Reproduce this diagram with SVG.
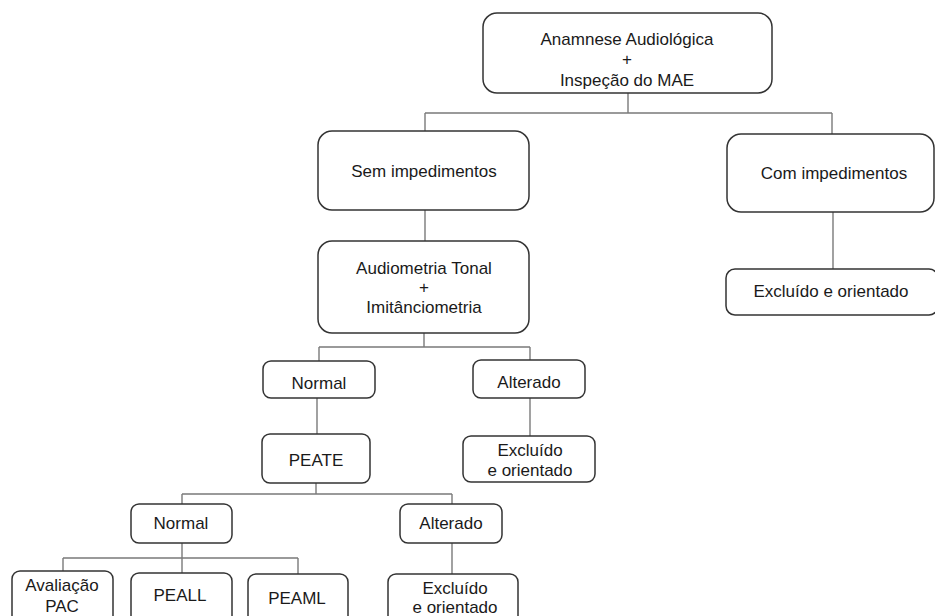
<svg xmlns="http://www.w3.org/2000/svg" width="935" height="616" viewBox="0 0 935 616">
<style>
.b{fill:#fff;stroke:#333;stroke-width:1.5}
.t{font-family:"Liberation Sans",Arial,sans-serif;font-size:17px;fill:#1a1a1a;text-anchor:middle}
.c{fill:none;stroke:#7a7a7a;stroke-width:1.4}
</style>
<rect width="935" height="616" fill="#fff"/>
<g id="connectors">
<path class="c" d="M628 93V113M425 113H832M425 113V131M832 113V134"/>
<path class="c" d="M425 210V241"/>
<path class="c" d="M833 212V269"/>
<path class="c" d="M424 333V347M319 347H530M319 347V361M530 347V360"/>
<path class="c" d="M317 398V434"/>
<path class="c" d="M530 398V436"/>
<path class="c" d="M316 483V494M182 494H452M182 494V504M452 494V504"/>
<path class="c" d="M182 543V558M63 558H298M63 558V571M182 558V573M298 558V574"/>
<path class="c" d="M452 543V574"/>
</g>
<g id="anamnese"><rect class="b" x="483" y="13" width="289" height="80" rx="14"/>
<text class="t" x="627" y="45">Anamnese Audiológica</text><text class="t" x="627" y="65">+</text><text class="t" x="627" y="86">Inspeção do MAE</text></g>
<g id="sem"><rect class="b" x="318" y="131" width="211" height="79" rx="14"/>
<text class="t" x="424" y="177">Sem impedimentos</text></g>
<g id="com"><rect class="b" x="727" y="134" width="207" height="78" rx="14"/>
<text class="t" x="834" y="179">Com impedimentos</text></g>
<g id="excluido-com"><rect class="b" x="726" y="269" width="212" height="46" rx="9"/>
<text class="t" x="831" y="297">Excluído e orientado</text></g>
<g id="audiometria"><rect class="b" x="318" y="241" width="211" height="92" rx="14"/>
<text class="t" x="424" y="274">Audiometria Tonal</text><text class="t" x="424" y="293">+</text><text class="t" x="424" y="313">Imitânciometria</text></g>
<g id="normal1"><rect class="b" x="263" y="361" width="112" height="37" rx="8"/>
<text class="t" x="319" y="389">Normal</text></g>
<g id="alterado1"><rect class="b" x="473" y="360" width="112" height="38" rx="8"/>
<text class="t" x="529" y="388">Alterado</text></g>
<g id="peate"><rect class="b" x="262" y="434" width="108" height="49" rx="8"/>
<text class="t" x="316" y="466">PEATE</text></g>
<g id="excluido1"><rect class="b" x="463" y="436" width="132" height="46" rx="8"/>
<text class="t" x="530" y="456">Excluído</text><text class="t" x="530" y="476">e orientado</text></g>
<g id="normal2"><rect class="b" x="131" y="504" width="101" height="39" rx="8"/>
<text class="t" x="181" y="529">Normal</text></g>
<g id="alterado2"><rect class="b" x="400" y="504" width="102" height="39" rx="8"/>
<text class="t" x="451" y="529">Alterado</text></g>
<g id="avaliacao"><rect class="b" x="12" y="571" width="101" height="55" rx="8"/>
<text class="t" x="62" y="591">Avaliação</text><text class="t" x="62" y="612">PAC</text></g>
<g id="peall"><rect class="b" x="131" y="573" width="101" height="55" rx="8"/>
<text class="t" x="180" y="601">PEALL</text></g>
<g id="peaml"><rect class="b" x="248" y="574" width="100" height="55" rx="8"/>
<text class="t" x="297" y="604">PEAML</text></g>
<g id="excluido2"><rect class="b" x="388" y="574" width="130" height="55" rx="8"/>
<text class="t" x="455" y="594">Excluído</text><text class="t" x="455" y="613">e orientado</text></g>
</svg>
